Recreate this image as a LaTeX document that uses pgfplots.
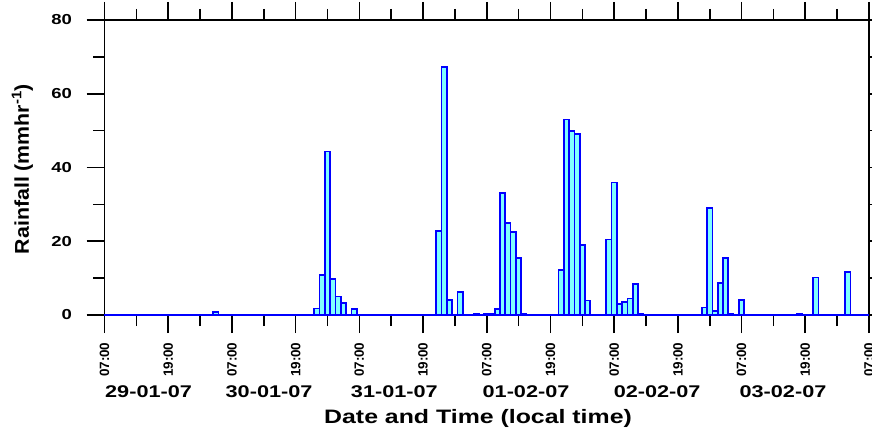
\documentclass[border=0pt]{standalone}
\usepackage{fontspec}
\setmainfont{Liberation Sans}[FakeStretch=1.28]
\newfontfamily\rotfont{Liberation Sans}
\newfontfamily\ylabfont{Liberation Sans}[FakeStretch=1.07]
\usepackage{pgfplots}
\pgfplotsset{compat=1.18}
\definecolor{barfill}{RGB}{128,255,255}
\definecolor{baredge}{RGB}{0,0,255}
\newcommand\xt[1]{\mbox{\rotfont\bfseries\fontsize{13.5}{14}\selectfont #1}}
\newcommand\yt[1]{\mbox{\bfseries\fontsize{14.5}{15}\selectfont #1}}
\begin{document}
\begin{tikzpicture}
\begin{axis}[
  scale only axis, width=764.5bp, height=295bp,
  at={(0,0)}, anchor=south west,
  xmin=0, xmax=144, ymin=0, ymax=80,
  clip=false,
  axis line style={line width=1.6bp},
  tick style={line width=1.6bp, black},
  tick align=outside,
  major tick length=18bp, minor tick length=11bp,
  xtick={0,12,...,144},
  xticklabels={\xt{07:00},\xt{19:00},\xt{07:00},\xt{19:00},\xt{07:00},\xt{19:00},\xt{07:00},\xt{19:00},\xt{07:00},\xt{19:00},\xt{07:00},\xt{19:00},\xt{07:00}},
  minor x tick num=1,
  ytick={0,20,40,60,80}, yticklabels={\yt{0},\yt{20},\yt{40},\yt{60},\yt{80}},
  minor y tick num=1,
  xticklabel shift=6bp,
  yticklabel shift=11bp,
  xticklabel style={rotate=90, anchor=east},
]
\addplot[baredge, line width=1.6bp] coordinates {(0,0) (144,0)};
\addplot[ybar, bar width=1, draw=baredge, fill=barfill, line width=1.7bp] coordinates {
(21,0.9)
(40,1.8) (41,10.8) (42,44.3) (43,9.7) (44,5.0) (45,3.3) (47,1.7)
(63,22.8) (64,67.2) (65,4.0) (67,6.3)
(70,0.2) (72,0.2) (73,0.3) (74,1.7) (75,33.1) (76,25.0) (77,22.5) (78,15.5) (79,0.3)
(86,12.2) (87,53.0) (88,49.9) (89,49.0) (90,19.0) (91,3.9)
(95,20.5) (96,35.9) (97,2.9) (98,3.6) (99,4.5) (100,8.4) (101,0.3)
(113,2.0) (114,29.1) (115,1.1) (116,8.6) (117,15.4) (118,0.3) (120,4.1)
(131,0.2) (134,10.2) (140,11.7)
};
\node[anchor=base, yshift=-82.7bp, font=\bfseries\fontsize{17}{18}\selectfont] at (axis cs:8.3,0) {29-01-07};
\node[anchor=base, yshift=-82.7bp, font=\bfseries\fontsize{17}{18}\selectfont] at (axis cs:31.0,0) {30-01-07};
\node[anchor=base, yshift=-82.7bp, font=\bfseries\fontsize{17}{18}\selectfont] at (axis cs:54.6,0) {31-01-07};
\node[anchor=base, yshift=-82.7bp, font=\bfseries\fontsize{17}{18}\selectfont] at (axis cs:79.4,0) {01-02-07};
\node[anchor=base, yshift=-82.7bp, font=\bfseries\fontsize{17}{18}\selectfont] at (axis cs:104.1,0) {02-02-07};
\node[anchor=base, yshift=-82.7bp, font=\bfseries\fontsize{17}{18}\selectfont] at (axis cs:127.8,0) {03-02-07};
\node[anchor=base, yshift=-108.3bp, font=\bfseries\fontsize{19.5}{20}\selectfont] at (rel axis cs:0.4886,0) {Date and Time (local time)};
\node[xshift=-82bp, rotate=90, anchor=center, font=\ylabfont\bfseries\fontsize{20}{21}\selectfont] at (rel axis cs:0,0.495) {Rainfall (mmhr\textsuperscript{-1})};
\end{axis}
\pgfresetboundingbox
\path[use as bounding box] (-104.5bp,-115bp) rectangle (767.5bp,315bp);
\end{tikzpicture}
\end{document}
